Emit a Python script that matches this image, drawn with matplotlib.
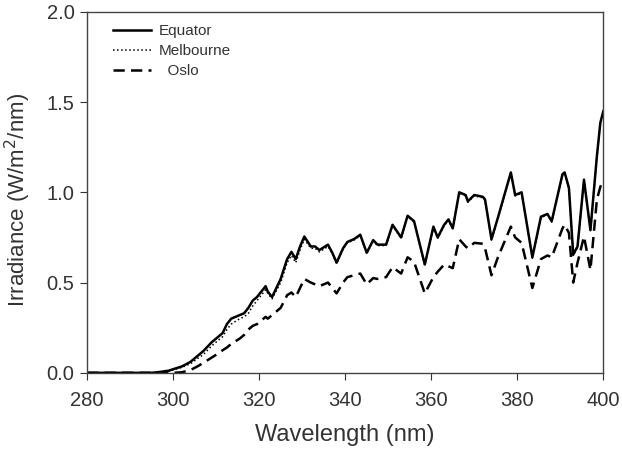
import numpy as np
import matplotlib.pyplot as plt

plt.rcParams['font.family'] = ['Liberation Sans', 'DejaVu Sans']

wavelength = [280, 290, 295, 297, 299, 300, 302, 304, 306, 307, 308, 309, 310,
              311.5, 312.5, 313.5, 315.5, 316.5, 317.5, 318.5, 319.5, 320.5,
              321.5, 322, 323, 325, 326.5, 327.5, 328.5, 329.5, 330.5, 332,
              333, 334, 336, 337, 338, 339.5, 340.5, 342, 343.5, 345, 346.5,
              347.5, 349.5, 351, 353, 354.5, 356, 358.5, 360.5, 361.5, 363,
              364, 365, 366.5, 368, 368.5, 370, 372, 372.5, 374, 375.5, 378.5,
              379.5, 381, 383.5, 385.5, 387, 388, 390.5, 391, 392, 393, 394,
              395.5, 397, 398.5, 399.3, 400]

equator = [0, 0, 0, 0.005, 0.012, 0.02, 0.035, 0.06, 0.10, 0.12, 0.145, 0.17,
           0.19, 0.22, 0.27, 0.30, 0.32, 0.33, 0.36, 0.40, 0.42, 0.45, 0.48,
           0.45, 0.42, 0.52, 0.63, 0.67, 0.63, 0.70, 0.755, 0.70, 0.70, 0.68,
           0.71, 0.665, 0.61, 0.69, 0.725, 0.74, 0.765, 0.665, 0.735, 0.71,
           0.71, 0.82, 0.75, 0.87, 0.84, 0.60, 0.81, 0.75, 0.82, 0.85, 0.80,
           1.00, 0.985, 0.95, 0.985, 0.975, 0.96, 0.74, 0.86, 1.11, 0.985,
           1.00, 0.64, 0.865, 0.88, 0.84, 1.10, 1.11, 1.025, 0.655, 0.70,
           1.07, 0.79, 1.20, 1.385, 1.45]

melbourne = [0, 0, 0, 0.004, 0.01, 0.016, 0.03, 0.05, 0.085, 0.10, 0.125,
             0.15, 0.17, 0.20, 0.24, 0.27, 0.30, 0.31, 0.33, 0.37, 0.40, 0.43,
             0.46, 0.44, 0.41, 0.50, 0.61, 0.65, 0.61, 0.68, 0.74, 0.69, 0.69,
             0.67, 0.70, 0.66, 0.605, 0.685, 0.72, 0.735, 0.76, 0.66, 0.73,
             0.705, 0.705, 0.815, 0.745, 0.865, 0.835, 0.595, 0.805, 0.745,
             0.815, 0.845, 0.795, 0.995, 0.98, 0.945, 0.98, 0.97, 0.955, 0.735,
             0.855, 1.105, 0.98, 0.995, 0.635, 0.86, 0.875, 0.835, 1.095,
             1.105, 1.02, 0.65, 0.695, 1.065, 0.785, 1.195, 1.38, 1.445]

oslo = [0, 0, 0, 0, 0, 0, 0.003, 0.015, 0.04, 0.055, 0.07, 0.085, 0.10,
        0.125, 0.14, 0.16, 0.19, 0.21, 0.24, 0.26, 0.27, 0.29, 0.31, 0.30,
        0.32, 0.36, 0.43, 0.445, 0.42, 0.47, 0.52, 0.50, 0.49, 0.48, 0.50,
        0.47, 0.44, 0.50, 0.53, 0.54, 0.55, 0.49, 0.525, 0.52, 0.53, 0.585,
        0.55, 0.64, 0.615, 0.44, 0.53, 0.56, 0.60, 0.59, 0.58, 0.74, 0.70,
        0.69, 0.72, 0.715, 0.69, 0.54, 0.64, 0.81, 0.75, 0.72, 0.47, 0.63,
        0.65, 0.64, 0.80, 0.82, 0.775, 0.50, 0.61, 0.755, 0.57, 0.96, 1.03,
        1.07]

fig = plt.figure(figsize=(6.22, 4.53), dpi=100)
ax = fig.add_axes([0.14, 0.177, 0.83, 0.797])

ax.plot(wavelength, equator, color='black', lw=1.8, label='Equator')
ax.plot(wavelength, melbourne, color='black', lw=1.1, ls=':', label='Melbourne')
ax.plot(wavelength, oslo, color='black', lw=1.8, dashes=(4.5, 2.5), label='  Oslo')

ax.set_xlim(280, 400)
ax.set_ylim(0, 2.0)
ax.set_xticks(np.arange(280, 401, 20))
ax.set_yticks(np.arange(0, 2.01, 0.5))
ax.set_yticklabels(['%.1f' % v for v in np.arange(0, 2.01, 0.5)])
ax.tick_params(direction='out', length=5, labelsize=14.5, colors='#333333',
               top=False, right=False)
ax.tick_params(axis='x', pad=8)
ax.tick_params(axis='y', pad=4)
for s in ax.spines.values():
    s.set_color('#444444')
    s.set_linewidth(1.0)

ax.set_xlabel('Wavelength (nm)', fontsize=17, color='#333333')
ax.set_ylabel('Irradiance (W/m$^2$/nm)', fontsize=16, color='#333333')
ax.xaxis.set_label_coords(0.5, -0.142)
ax.yaxis.set_label_coords(-0.105, 0.48)

leg = ax.legend(loc='upper left', frameon=False, fontsize=11,
                handlelength=2.5, handletextpad=0.5, labelspacing=0.4,
                borderaxespad=0.3, bbox_to_anchor=(0.03, 0.995))
for t in leg.get_texts():
    t.set_color('#333333')

fig.savefig('out.png', dpi=100)
